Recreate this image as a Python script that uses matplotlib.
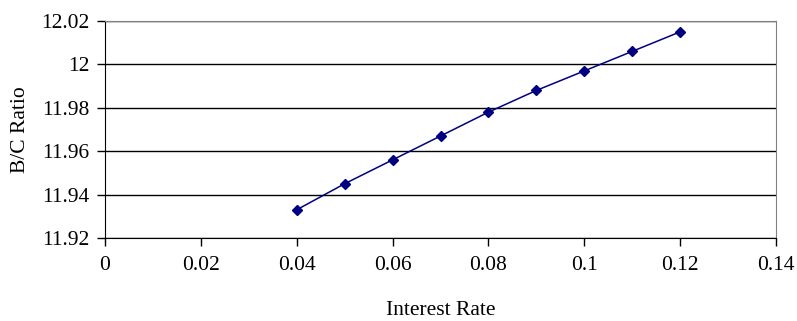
import matplotlib
matplotlib.use("Agg")
import matplotlib.pyplot as plt

rate = [0.04, 0.05, 0.06, 0.07, 0.08, 0.09, 0.10, 0.11, 0.12]
bc_ratio = [11.933, 11.945, 11.956, 11.967, 11.978, 11.988, 11.997, 12.006, 12.015]
xticks = [0, 0.02, 0.04, 0.06, 0.08, 0.1, 0.12, 0.14]
yticks = [11.92, 11.94, 11.96, 11.98, 12.0, 12.02]
xlabels = ["0", "0.02", "0.04", "0.06", "0.08", "0.1", "0.12", "0.14"]
ylabels = ["11.92", "11.94", "11.96", "11.98", "12", "12.02"]

NAVY = "#000080"
plt.rcParams.update({"font.family": ["Liberation Serif", "DejaVu Serif"], "font.size": 15.5})

fig = plt.figure(figsize=(7.97, 3.21), dpi=100)
ax = fig.add_axes([105 / 797, 1 - 238 / 321, (776 - 105) / 797, (238 - 21) / 321])

ax.plot(rate, bc_ratio, color=NAVY, lw=1.1, marker="D", ms=5.5, zorder=3)
ax.set_xlim(0, 0.14)
ax.set_ylim(11.92, 12.02)
ax.set_xticks(xticks, xlabels)
ax.set_yticks(yticks, ylabels)
ax.grid(axis="y", color="black", lw=1)
ax.set_axisbelow(True)
for s in ("top", "right"):
    ax.spines[s].set_color("#808080")
for s in ("left", "bottom"):
    ax.spines[s].set_color("black")
ax.tick_params(direction="out", length=6, width=1, pad=7, colors="black")
ax.tick_params(axis="y", pad=5)
ax.set_ylabel("B/C Ratio", labelpad=8)
ax.set_xlabel("Interest Rate", labelpad=19)

fig.savefig("out.png", dpi=100)
